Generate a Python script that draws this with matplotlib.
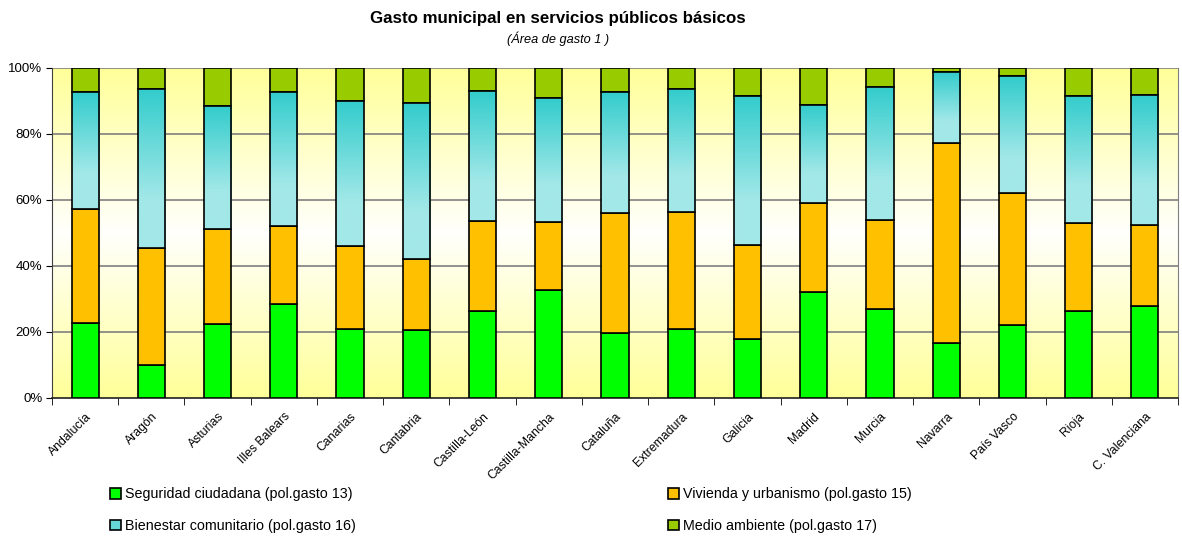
import numpy as np
import matplotlib
matplotlib.use("Agg")
import matplotlib.pyplot as plt
from matplotlib.patches import Patch

plt.rcParams["font.family"] = ["Liberation Sans Narrow", "Liberation Sans", "DejaVu Sans"]

# data (percent of total, per region)
regions = ["Andalucía", "Aragón", "Asturias", "Illes Balears", "Canarias",
           "Cantabria", "Castilla-León", "Castilla-Mancha", "Cataluña",
           "Extremadura", "Galicia", "Madrid", "Murcia", "Navarra",
           "País Vasco", "Rioja", "C. Valenciana"]
seguridad = [22.6, 9.9, 22.3, 28.4, 20.8, 20.6, 26.5, 32.7, 19.8, 20.9,
             17.8, 32.2, 26.9, 16.7, 22.1, 26.3, 27.8]
vivienda = [34.6, 35.4, 28.9, 23.8, 25.3, 21.6, 27.1, 20.7, 36.2, 35.5,
            28.4, 26.8, 27.0, 60.5, 40.0, 26.6, 24.6]
bienestar = [35.6, 48.3, 37.4, 40.6, 44.0, 47.3, 39.3, 37.5, 36.8, 37.2,
             45.4, 29.9, 40.3, 21.6, 35.3, 38.5, 39.3]
medio = [7.2, 6.4, 11.4, 7.2, 9.9, 10.5, 7.1, 9.1, 7.2, 6.4,
         8.4, 11.1, 5.8, 1.2, 2.6, 8.6, 8.3]

series_names = ["Seguridad ciudadana (pol.gasto 13)",
                "Vivienda y urbanismo (pol.gasto 15)",
                "Bienestar comunitario (pol.gasto 16)",
                "Medio ambiente (pol.gasto 17)"]
colors = ["#00FF00", "#FFC000", "#7FDCDC", "#99CC00"]
cyan_dark = np.array([0x33, 0xCC, 0xCC]) / 255
cyan_light = np.array([0xA3, 0xE8, 0xE8]) / 255

fig = plt.figure(figsize=(11.82, 5.39), dpi=100)
ax = fig.add_axes([0.044, 0.2616, 0.9526, 0.6124])

x = np.arange(len(regions))

# background: yellow at top and bottom, almost white in the middle
t = np.linspace(0, 1, 200)
yel = np.array([1.0, 1.0, 0.6])
wht = np.array([1.0, 1.0, 0.99])
w = 1 - np.abs(t - 0.5) * 2
bg = yel[None, :] * (1 - w[:, None]) + wht[None, :] * w[:, None]
ax.imshow(bg[:, None, :], extent=[0, 1, 0, 1], transform=ax.transAxes,
          aspect="auto", zorder=0)

for yv in [20, 40, 60, 80, 100]:
    ax.axhline(yv, color="#7f7f7f", lw=1.2, zorder=1)

bottom = np.zeros(len(regions))
width = 0.41
for vals, col in zip([seguridad, vivienda, bienestar, medio], colors):
    bars = ax.bar(x, vals, width, bottom=bottom, color=col,
                  edgecolor="black", linewidth=1.2, zorder=3)
    if col == colors[2]:
        # vertical gradient: dark cyan at top, light further down
        g = np.linspace(0, 1, 100)
        f = np.clip(g / 0.7, 0, 1)
        img = cyan_dark[None, :] * (1 - f[:, None]) + cyan_light[None, :] * f[:, None]
        for b in bars:
            x0, y0 = b.get_x(), b.get_y()
            im = ax.imshow(img[:, None, :],
                           extent=[x0, x0 + b.get_width(), y0, y0 + b.get_height()],
                           origin="upper", aspect="auto", zorder=3.5)
            im.set_clip_path(b)
            b.set_facecolor("none")
            b.set_zorder(4)
    bottom += np.array(vals)

ax.set_xlim(-0.5, len(regions) - 0.5)
ax.set_ylim(0, 100)

ax.set_yticks([0, 20, 40, 60, 80, 100])
ax.set_yticklabels(["0%", "20%", "40%", "60%", "80%", "100%"], fontsize=9.5)
ax.set_xticks(x)
ax.set_xticklabels(regions, rotation=45, ha="right", rotation_mode="anchor",
                   fontsize=8.8)
ax.set_xticks(np.arange(-0.5, len(regions)), minor=True)
ax.tick_params(axis="x", which="major", length=0, pad=9)
ax.tick_params(axis="x", which="minor", length=5, direction="out")
ax.tick_params(axis="y", length=4, direction="out", pad=3)

ax.spines["top"].set_visible(False)
ax.spines["right"].set_color("#7f7f7f")
ax.spines["left"].set_color("#404040")
ax.spines["bottom"].set_color("#202020")
ax.spines["bottom"].set_linewidth(1.2)

fig.text(0.472, 0.965, "Gasto municipal en servicios públicos básicos",
         ha="center", va="center", fontsize=12.2, fontweight="bold")
fig.text(0.472, 0.928, "(Área de gasto 1 )", ha="center", va="center",
         fontsize=9.2, style="italic")

handles = [Patch(facecolor=c, edgecolor="black", linewidth=1.2) for c in colors]
handles[2] = Patch(facecolor="#66D6D6", edgecolor="black", linewidth=1.2)
legend_kw = dict(frameon=False, fontsize=10.3, handlelength=0.75,
                 handleheight=0.75, handletextpad=0.3, labelspacing=1.25,
                 borderpad=0, borderaxespad=0, loc="upper left")
leg1 = fig.legend([handles[0], handles[2]], [series_names[0], series_names[2]],
                  bbox_to_anchor=(0.093, 0.096), **legend_kw)
leg2 = fig.legend([handles[1], handles[3]], [series_names[1], series_names[3]],
                  bbox_to_anchor=(0.565, 0.096), **legend_kw)

fig.savefig("out.png", dpi=100)
